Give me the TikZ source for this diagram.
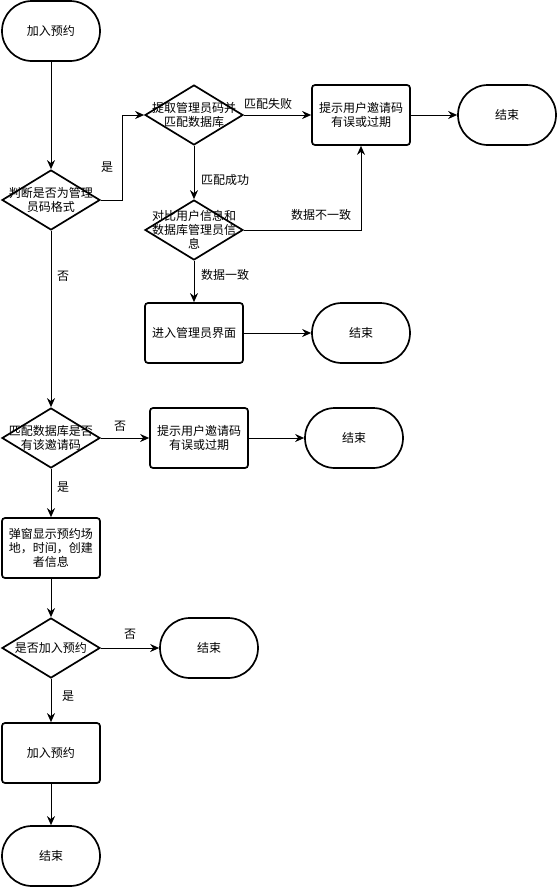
\documentclass[tikz,border=0pt]{standalone}
\usepackage{fontspec}
\newfontfamily\cjk{Noto Sans CJK SC}
\usetikzlibrary{shapes.geometric,arrows.meta}
\begin{document}
\begin{tikzpicture}[
    x=1pt, y=-1pt,
    font=\cjk\fontsize{12}{14}\selectfont,
    box/.style={draw, line width=1.7pt, rounded corners=3pt, minimum width=98pt, minimum height=60pt, align=center, inner sep=2pt},
    term/.style={draw, line width=1.7pt, rounded corners=30pt, minimum width=98pt, minimum height=60pt, align=center},
    decision/.style={draw, line width=1.7pt, diamond, minimum width=98pt, minimum height=60pt, inner sep=0pt},
    txt/.style={align=center, inner sep=0pt},
    arrow/.style={-{Stealth[length=9pt,width=8pt]}, line width=1pt},
]
    \useasboundingbox (0,0) rectangle (557,887);

    % Start
    \node[term] (start) at (51,31) {加入预约};

    % Admin code branch
    \node[decision, label={[txt]center:判断是否为管理\\员码格式}] (isadmin) at (51,200) {};
    \node[decision, label={[txt]center:提取管理员码并\\匹配数据库}] (match) at (194,115) {};
    \node[box] (err1) at (361,115) {提示用户邀请码\\有误或过期};
    \node[term] (end1) at (507,115) {结束};
    \node[decision, label={[txt]center:对比用户信息和\\数据库管理员信\\息}] (compare) at (194,230) {};
    \node[box] (admin) at (194,333) {进入管理员界面};
    \node[term] (end2) at (361,333) {结束};

    % Invite code branch
    \node[decision, label={[txt]center:匹配数据库是否\\有该邀请码}] (hascode) at (51,438) {};
    \node[box] (err2) at (199,438) {提示用户邀请码\\有误或过期};
    \node[term] (end3) at (354,438) {结束};
    \node[box] (popup) at (51,548) {弹窗显示预约场\\地，时间，创建\\者信息};
    \node[decision, label={[txt]center:是否加入预约}] (join) at (51,648) {};
    \node[term] (end4) at (209,648) {结束};
    \node[box] (joined) at (51,753) {加入预约};
    \node[term] (end5) at (51,856) {结束};

    % Arrows
    \draw[arrow] (start) -- (isadmin);
    \draw[arrow] (isadmin.east) -- ++(22,0) |- (match.west);
    \draw[arrow] (match) -- (err1);
    \draw[arrow] (err1) -- (end1);
    \draw[arrow] (match) -- (compare);
    \draw[arrow] (compare.east) -| (err1.south);
    \draw[arrow] (compare) -- (admin);
    \draw[arrow] (admin) -- (end2);
    \draw[arrow] (isadmin) -- (hascode);
    \draw[arrow] (hascode) -- (err2);
    \draw[arrow] (err2) -- (end3);
    \draw[arrow] (hascode) -- (popup);
    \draw[arrow] (popup) -- (join);
    \draw[arrow] (join) -- (end4);
    \draw[arrow] (join) -- (joined);
    \draw[arrow] (joined) -- (end5);

    % Edge labels
    \node (l1) at (107,167) {是};
    \node (l2) at (268,104) {匹配失败};
    \node (l3) at (225,180) {匹配成功};
    \node (l4) at (321,215) {数据不一致};
    \node (l5) at (225,275) {数据一致};
    \node (l6) at (63,276) {否};
    \node (l7) at (120,426) {否};
    \node (l8) at (63,487) {是};
    \node (l9) at (130,634) {否};
    \node (l10) at (68,696) {是};
\end{tikzpicture}
\end{document}
